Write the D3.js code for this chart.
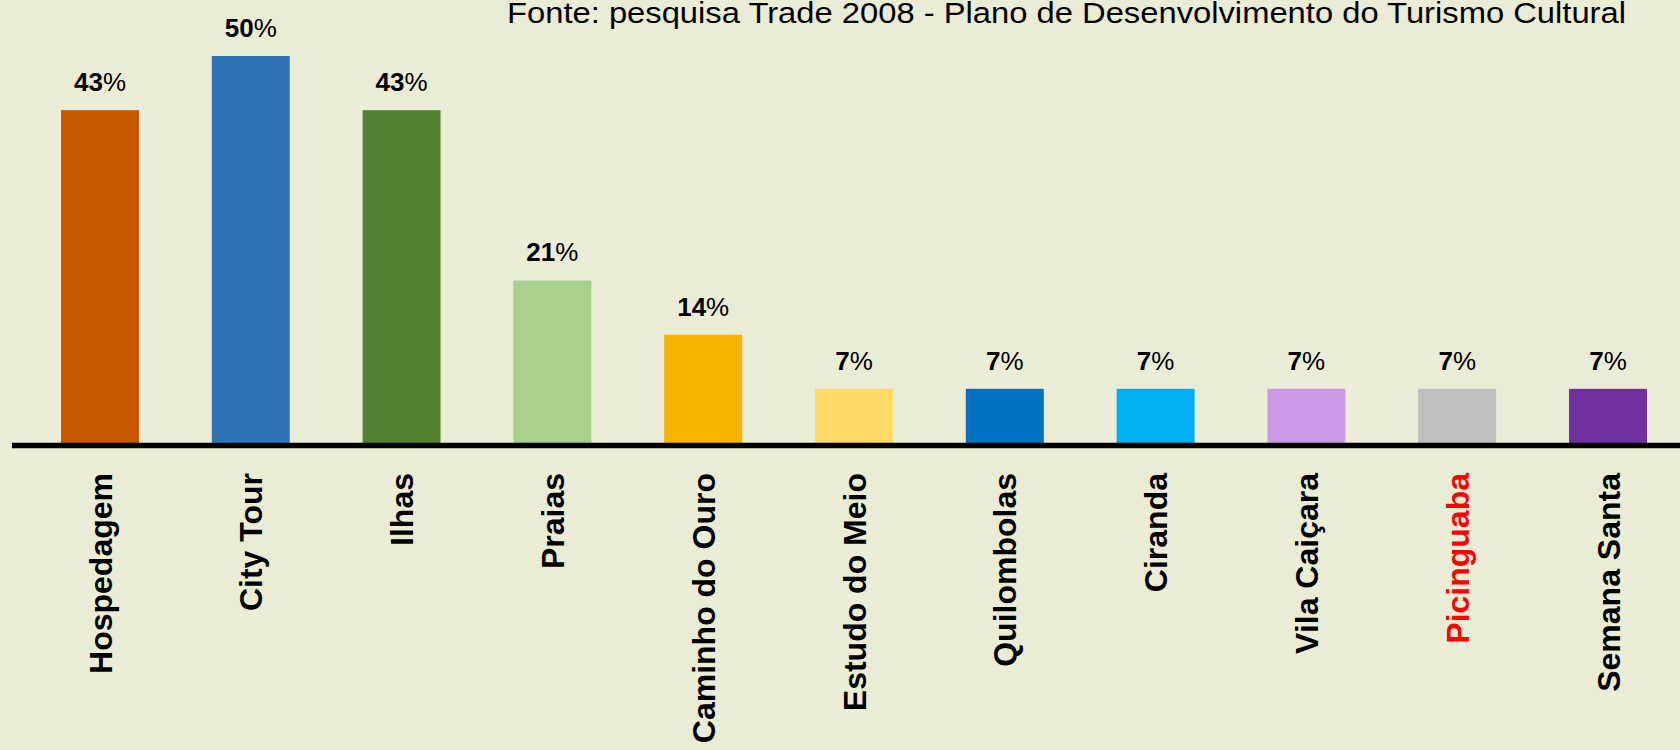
<!DOCTYPE html>
<html>
<head>
<meta charset="utf-8">
<script src="https://cdn.jsdelivr.net/npm/d3@7"></script>
<style>
  html, body { margin: 0; padding: 0; background: #EBECD6; }
  svg { display: block; font-family: "Liberation Sans", Arial, sans-serif; }
</style>
</head>
<body>
<script>
// data
var categories = ["Hospedagem", "City Tour", "Ilhas", "Praias", "Caminho do Ouro", "Estudo do Meio",
                  "Quilombolas", "Ciranda", "Vila Caiçara", "Picinguaba", "Semana Santa"];
var values = [43, 50, 43, 21, 14, 7, 7, 7, 7, 7, 7];
var barColors = ["#C55A00", "#2E75B6", "#548235", "#A9D18E", "#F4B400", "#FFD966",
                 "#0070C0", "#00B0F0", "#CC99E6", "#BFBFBF", "#7030A0"];
var labelColors = ["#000", "#000", "#000", "#000", "#000", "#000", "#000", "#000", "#000", "#FF0000", "#000"];
var sourceText = "Fonte: pesquisa Trade 2008 - Plano de Desenvolvimento do Turismo Cultural";

var width = 1680, height = 750;
var baseY = 443;

var svg = d3.select("body").append("svg")
    .attr("width", width)
    .attr("height", height);

svg.append("rect").attr("width", width).attr("height", height).attr("fill", "#EBECD6");

// Set the ranges
var x = d3.scaleBand()
    .domain(categories)
    .range([61, 1647])
    .paddingInner(0.483)
    .paddingOuter(0);

var y = d3.scaleLinear().domain([0, 50]).range([baseY, 56]);

var data = categories.map(function(c, i) {
  return {cat: c, val: values[i], color: barColors[i], lab: labelColors[i]};
});

// bars
svg.selectAll(".bar")
  .data(data)
  .enter().append("rect")
    .attr("class", "bar")
    .attr("x", function(d) { return x(d.cat); })
    .attr("y", function(d) { return y(d.val); })
    .attr("width", x.bandwidth())
    .attr("height", function(d) { return y(0) - y(d.val); })
    .attr("fill", function(d) { return d.color; });

// value labels
var vl = svg.selectAll(".val")
  .data(data)
  .enter().append("text")
    .attr("class", "val")
    .attr("x", function(d) { return x(d.cat) + x.bandwidth() / 2; })
    .attr("y", function(d) { return y(d.val) - 19; })
    .attr("text-anchor", "middle")
    .style("font-size", "26px")
    .style("fill", "#000");
vl.append("tspan").style("font-weight", "bold").text(function(d) { return d.val; });
vl.append("tspan").text("%");

// baseline axis
var axis = svg.append("g")
  .attr("transform", "translate(0," + (baseY + 2.5) + ")")
  .call(d3.axisBottom(x).tickSize(0).tickFormat(""));
axis.select(".domain").remove();
axis.append("line")
  .attr("x1", 12).attr("x2", width)
  .attr("stroke", "#000").attr("stroke-width", 5.5);

// category labels (rotated)
svg.selectAll(".cat")
  .data(data)
  .enter().append("text")
    .attr("class", "cat")
    .attr("transform", function(d) {
      return "translate(" + (x(d.cat) + x.bandwidth() / 2) + ",473)rotate(-90)";
    })
    .attr("dy", "0.36em")
    .attr("text-anchor", "end")
    .style("font-size", "32px")
    .style("font-weight", "bold")
    .style("fill", function(d) { return d.lab; })
    .text(function(d) { return d.cat; });

// source note
svg.append("text")
  .attr("x", 507)
  .attr("y", 23)
  .attr("textLength", 1119)
  .attr("lengthAdjust", "spacingAndGlyphs")
  .style("font-size", "30px")
  .style("fill", "#000")
  .text(sourceText);
</script>
</body>
</html>
